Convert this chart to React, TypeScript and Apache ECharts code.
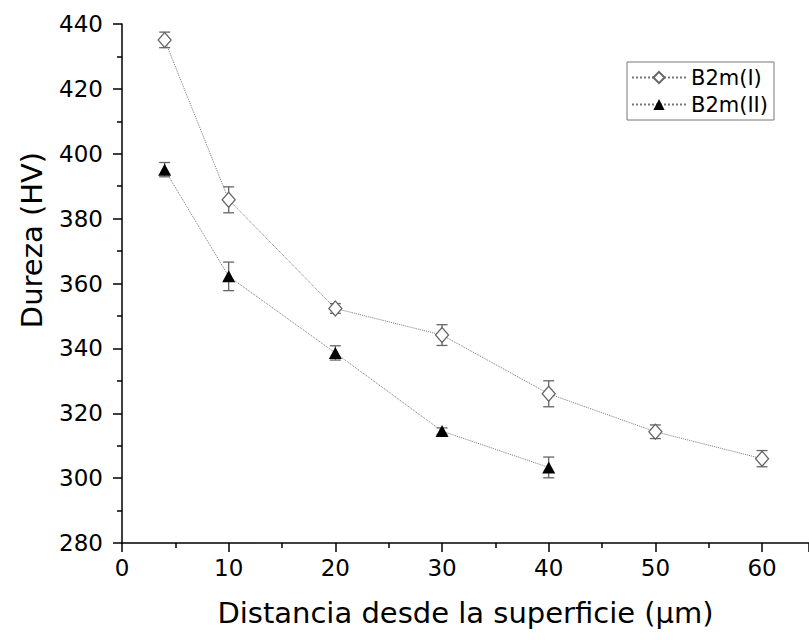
import React, { useEffect, useRef } from "react";
import * as echarts from "echarts";

const seriesNames = ["B2m(I)", "B2m(II)"];

const distI = [4, 10, 20, 30, 40, 50, 60];
const hardI = [435.1, 385.8, 352.3, 344.1, 326.0, 314.3, 306.0];
const errI = [2.4, 4.0, 1.5, 3.2, 4.0, 2.1, 2.5];

const distII = [4, 10, 20, 30, 40];
const hardII = [395.1, 362.2, 338.6, 314.5, 303.3];
const errII = [2.2, 4.4, 2.2, 1.0, 3.2];

const xTitle = "Distancia desde la superficie (μm)";
const yTitle = "Dureza (HV)";

const FONT = "DejaVu Sans";

function errorRender(params: any, api: any) {
  const x = api.value(0);
  const y = api.value(1);
  const e = api.value(2);
  const top = api.coord([x, y + e]);
  const bot = api.coord([x, y - e]);
  const hw = 5.5;
  const style = { stroke: "#666666", lineWidth: 1.3 };
  return {
    type: "group",
    children: [
      { type: "line", shape: { x1: top[0], y1: top[1], x2: bot[0], y2: bot[1] }, style },
      { type: "line", shape: { x1: top[0] - hw, y1: top[1], x2: top[0] + hw, y2: top[1] }, style },
      { type: "line", shape: { x1: bot[0] - hw, y1: bot[1], x2: bot[0] + hw, y2: bot[1] }, style },
    ],
  };
}

export default function App() {
  const ref = useRef<HTMLDivElement>(null);
  useEffect(() => {
    if (!ref.current) return;
    const chart = echarts.init(ref.current, null, { renderer: "svg" });
    const lineData = (xs: number[], ys: number[]) => xs.map((x, i) => [x, ys[i]]);
    const errData = (xs: number[], ys: number[], es: number[]) => xs.map((x, i) => [x, ys[i], es[i]]);
    chart.setOption({
      animation: false,
      backgroundColor: "#ffffff",
      textStyle: { fontFamily: FONT },
      grid: { left: 122, right: 0, top: 24, bottom: 97, containLabel: false },
      legend: {
        data: seriesNames,
        orient: "vertical",
        left: 627,
        top: 62,
        padding: [5, 6, 5, 4],
        itemWidth: 54,
        itemHeight: 14,
        itemGap: 6,
        borderColor: "#777777",
        borderWidth: 1,
        textStyle: { fontFamily: FONT, fontSize: 21, color: "#000" },
      },
      xAxis: {
        type: "value",
        min: 0,
        max: 64.4,
        interval: 10,
        name: xTitle,
        nameLocation: "middle",
        nameGap: 55,
        nameTextStyle: { fontFamily: FONT, fontSize: 29, color: "#000" },
        axisLine: { show: true, lineStyle: { color: "#000", width: 1.5 } },
        axisTick: { show: true, inside: false, length: 9, lineStyle: { color: "#000", width: 1.5 } },
        minorTick: { show: true, splitNumber: 2, length: 5, lineStyle: { color: "#000", width: 1.5 } },
        axisLabel: {
          fontFamily: FONT,
          fontSize: 23,
          color: "#000",
          margin: 13,
          showMaxLabel: false,
          formatter: (v: number) => (v % 10 === 0 && v <= 60 ? String(v) : ""),
        },
        splitLine: { show: false },
      },
      yAxis: {
        type: "value",
        min: 280,
        max: 440,
        interval: 20,
        axisLine: { show: true, lineStyle: { color: "#000", width: 1.5 } },
        axisTick: { show: true, inside: false, length: 9, lineStyle: { color: "#000", width: 1.5 } },
        minorTick: { show: true, splitNumber: 2, length: 5, lineStyle: { color: "#000", width: 1.5 } },
        axisLabel: { fontFamily: FONT, fontSize: 23, color: "#000", margin: 19 },
        splitLine: { show: false },
      },
      graphic: [
        {
          type: "text",
          x: 32,
          y: 240,
          rotation: Math.PI / 2,
          style: {
            text: yTitle,
            fontFamily: FONT,
            fontSize: 29,
            fill: "#000",
            align: "center",
            verticalAlign: "middle",
          },
        },
      ],
      series: [
        {
          type: "custom",
          name: "errI",
          renderItem: errorRender,
          data: errData(distI, hardI, errI),
          z: 1,
          silent: true,
        },
        {
          type: "custom",
          name: "errII",
          renderItem: errorRender,
          data: errData(distII, hardII, errII),
          z: 1,
          silent: true,
        },
        {
          type: "line",
          name: seriesNames[0],
          data: lineData(distI, hardI),
          symbol: "diamond",
          symbolSize: [13, 15],
          showAllSymbol: true,
          lineStyle: { color: "#777777", width: 1, type: "dotted" },
          itemStyle: { color: "#ffffff", borderColor: "#666666", borderWidth: 1.3 },
          z: 3,
        },
        {
          type: "line",
          name: seriesNames[1],
          data: lineData(distII, hardII),
          symbol: "triangle",
          symbolSize: [13, 12],
          showAllSymbol: true,
          lineStyle: { color: "#777777", width: 1, type: "dotted" },
          itemStyle: { color: "#000000", borderColor: "#000000", borderWidth: 0 },
          z: 3,
        },
      ],
    });
    return () => chart.dispose();
  }, []);
  return (
    <div
      ref={ref}
      style={{ position: "fixed", left: 0, top: 0, width: 809, height: 640, background: "#fff" }}
    />
  );
}
